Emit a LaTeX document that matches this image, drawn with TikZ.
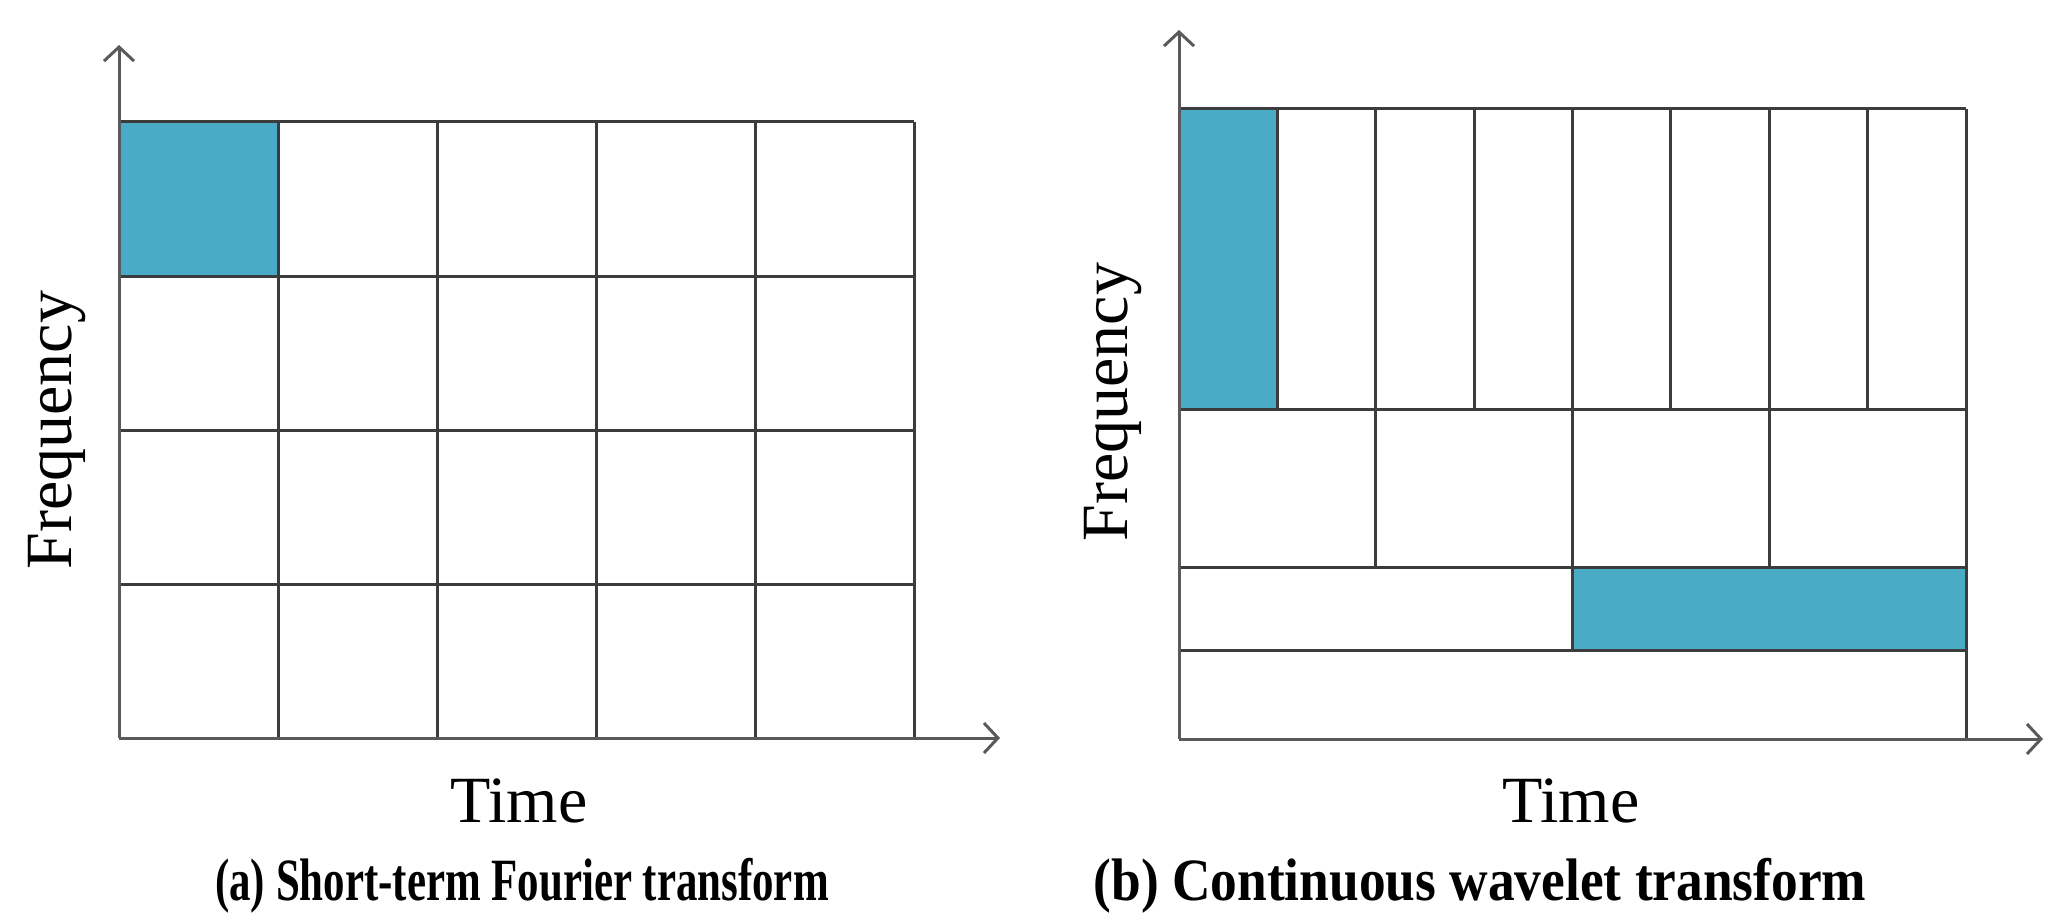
\documentclass[tikz,border=0pt]{standalone}
\usepackage{fontspec}
\usepackage{graphicx}
\setmainfont{Liberation Serif}
\usetikzlibrary{arrows.meta}
\definecolor{cellblue}{HTML}{4AABC7}
\definecolor{gridline}{HTML}{3C3C3C}
\definecolor{axisline}{HTML}{5A5A5A}
\tikzset{
  gridl/.style={draw=gridline, line width=3pt},
  bluecell/.style={fill=cellblue, draw=gridline, line width=3pt},
  axisl/.style={draw=axisline, line width=3pt, -{Straight Barb[length=14pt,width=30pt]}},
  axlabel/.style={font=\fontsize{66}{70}\selectfont, inner sep=0pt},
  caplabel/.style={font=\bfseries\fontsize{60}{64}\selectfont, inner sep=0pt},
}
\begin{document}
\begin{tikzpicture}[x=1pt,y=-1pt]
\useasboundingbox (0,0) rectangle (2067,920);
% ---------------- left panel ----------------
\fill[bluecell] (119,122) rectangle (278,276);
\foreach \x in {278,437,596,755,914} \draw[gridl] (\x,122) -- (\x,738);
\foreach \y in {122,276,430,584} \draw[gridl] (119,\y) -- (914,\y);
\coordinate (lo) at (119,738);
\coordinate (lxe) at (1000,738);
\coordinate (lye) at (119,45);
\draw[axisl] (lo) -- (lxe);
\draw[axisl] (lo) -- (lye);
\node[axlabel, anchor=base] (ltime) at (519,822) {Time};
\node[axlabel, rotate=90] (lfreq) at (57,430) {Frequency};
\node[caplabel, anchor=base] (lcap) at (522,900) {\scalebox{0.715}[1]{(a) Short-term Fourier transform}};
% ---------------- right panel ----------------
\fill[bluecell] (1179,109) rectangle (1277.4,409);
\fill[bluecell] (1572,567) rectangle (1966,650);
\draw[gridl] (1179,109) -- (1966,109);
\foreach \x in {1277.4,1375.8,1474.1,1670.9,1769.3,1867.6} \draw[gridl] (\x,109) -- (\x,409);
\draw[gridl] (1572.5,109) -- (1572.5,409);
\draw[gridl] (1179,409) -- (1966,409);
\foreach \x in {1375.8,1572.5,1769.3} \draw[gridl] (\x,409) -- (\x,567);
\draw[gridl] (1179,567) -- (1966,567);
\draw[gridl] (1572.5,567) -- (1572.5,650);
\draw[gridl] (1179,650) -- (1966,650);
\draw[gridl] (1966,109) -- (1966,739);
\coordinate (ro) at (1179,739);
\coordinate (rxe) at (2043,739);
\coordinate (rye) at (1179,30);
\draw[axisl] (ro) -- (rxe);
\draw[axisl] (ro) -- (rye);
\node[axlabel, anchor=base] (rtime) at (1571,822) {Time};
\node[axlabel, rotate=90] (rfreq) at (1113,402) {Frequency};
\node[caplabel, anchor=base] (rcap) at (1480,900) {\scalebox{0.89}[1]{(b) Continuous wavelet transform}};
\end{tikzpicture}
\end{document}
